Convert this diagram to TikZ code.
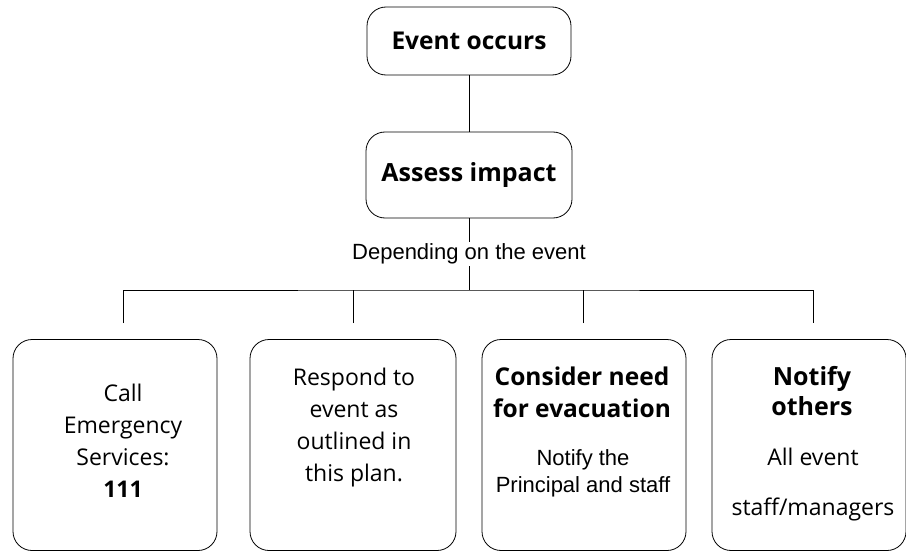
\documentclass[tikz,border=0pt]{standalone}
\usepackage{fontspec}
\setmainfont{Open Sans}
\newfontfamily\arialfont{Liberation Sans}

\begin{document}
\begin{tikzpicture}[x=1pt,y=-1pt,line width=0.8pt,
    box/.style={draw,rounded corners=19pt,inner sep=0pt},
    title/.style={font=\bfseries\fontsize{24.5}{32}\selectfont,align=center,inner sep=0pt},
    body/.style={font=\fontsize{23}{32}\selectfont,align=center,inner sep=0pt},
    plain/.style={font=\arialfont\fontsize{22}{27}\selectfont,align=center,inner sep=0pt}]

  \useasboundingbox (0,0) rectangle (906,551);

  % top of the tree
  \node[box,title,minimum width=204pt,minimum height=68pt] (occurs) at (469,41) {Event occurs};
  \node[box,title,font=\bfseries\fontsize{25}{32}\selectfont,minimum width=206pt,minimum height=86pt] (assess) at (469,175) {Assess impact};

  % the four actions
  \begin{scope}[every node/.style={box,minimum height=211pt}]
    \node[minimum width=204pt] (call)    at (115,445) {};
    \node[minimum width=206pt] (respond) at (353,445) {};
    \node[minimum width=204pt] (evac)    at (584,445) {};
    \node[minimum width=194pt] (notify)  at (809,445) {};
  \end{scope}

  % texts, placed by the baseline of their last line
  \node[body,anchor=base] (callText) at (123,497)
    {Call\\Emergency\\Services:\\\textbf{111}};
  \node[body,anchor=base] (respondText) at (354,481)
    {Respond to\\event as\\outlined in\\this plan.};
  \node[title,anchor=base] (evacTitle) at (582,417) {Consider need\\for evacuation};
  \node[plain,anchor=base] (evacText) at (583,492) {Notify the\\Principal and staff};
  \node[title,font=\bfseries\fontsize{25}{30}\selectfont,anchor=base] (notifyTitle) at (812,415)
    {Notify\\others};
  \node[body,font=\fontsize{23}{50}\selectfont,anchor=base] (notifyText) at (813,515)
    {All event\\staff/managers};

  % connectors
  \coordinate (hub) at (469,290);
  \coordinate (d1) at (123,323);
  \coordinate (d2) at (353,323);
  \coordinate (d3) at (583,323);
  \coordinate (d4) at (813,323);

  \draw (occurs) -- (assess);
  \draw (assess) -- node[plain,fill=white,inner ysep=2pt] (depend) {Depending on the event} (hub);
  \draw (d1) |- (hub) -| (d4);
  \draw (d2) -- (d2 |- hub);
  \draw (d3) -- (d3 |- hub);

\end{tikzpicture}
\end{document}
